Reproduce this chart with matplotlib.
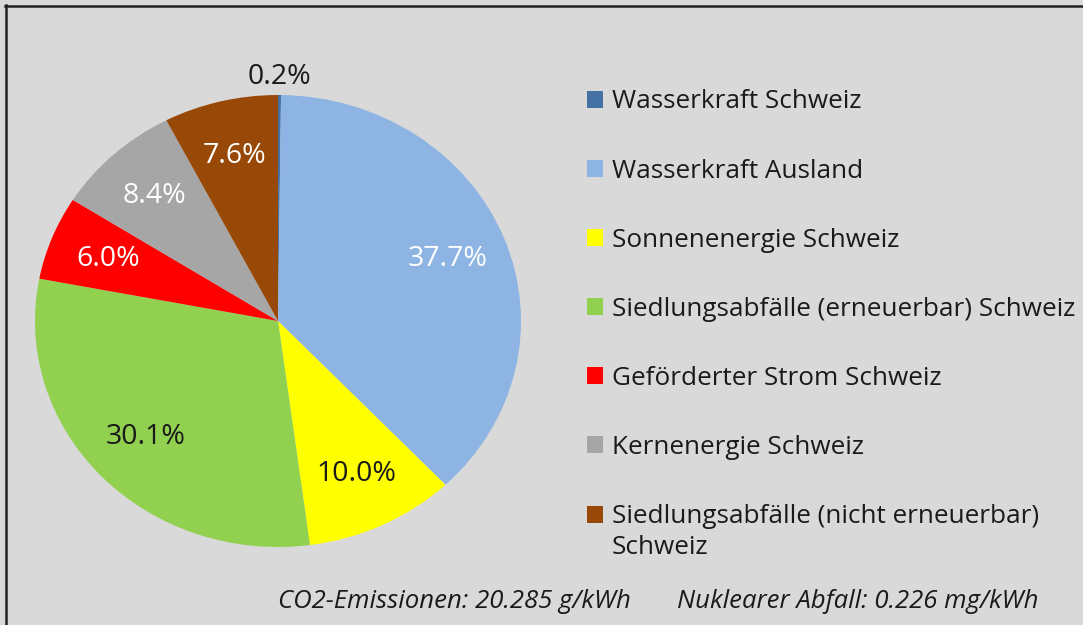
import matplotlib
matplotlib.use("Agg")
import matplotlib.pyplot as plt
from matplotlib.patches import Patch

plt.rcParams['font.family'] = ['Open Sans', 'DejaVu Sans']

# data
categories = [
    "Wasserkraft Schweiz",
    "Wasserkraft Ausland",
    "Sonnenenergie Schweiz",
    "Siedlungsabfälle (erneuerbar) Schweiz",
    "Geförderter Strom Schweiz",
    "Kernenergie Schweiz",
    "Siedlungsabfälle (nicht erneuerbar)",
]
last_label_wrap = "Schweiz"
shares = [0.2, 37.7, 10.0, 30.1, 6.0, 8.4, 7.6]
colors = ["#4472a4", "#8eb4e3", "#ffff00", "#92d050", "#ff0000", "#a6a6a6", "#984807"]
label_colors = ["#1a1a1a", "white", "#1a1a1a", "#1a1a1a", "white", "white", "white"]
footer_co2 = "CO2-Emissionen: 20.285 g/kWh"
footer_nuc = "Nuklearer Abfall: 0.226 mg/kWh"

W, H = 1083, 625
bg = "#d9d9d9"
fig = plt.figure(figsize=(W / 100, H / 100), dpi=100)
fig.patch.set_facecolor(bg)

# frame lines (top / left)
fig.add_artist(plt.Line2D([5 / W, 1], [1 - 6 / H, 1 - 6 / H], color="#222222", lw=1.8, transform=fig.transFigure))
fig.add_artist(plt.Line2D([6 / W, 6 / W], [0, 1 - 5 / H], color="#222222", lw=1.8, transform=fig.transFigure))

# pie (slightly wider than tall, like the original)
cx, cy, rx, ry = 278, 321, 243, 226
ax = fig.add_axes([(cx - rx) / W, 1 - (cy + ry) / H, 2 * rx / W, 2 * ry / H])
ax.set_facecolor(bg)
wedges, texts, autotexts = ax.pie(
    shares, colors=colors, startangle=90, counterclock=False,
    autopct="%.1f%%", pctdistance=0.75, radius=1,
    wedgeprops=dict(linewidth=0),
    textprops=dict(fontsize=20.5),
)
for t, c in zip(autotexts, label_colors):
    t.set_color(c)
# small slice label outside
x0, y0 = autotexts[0].get_position()
autotexts[0].set_position((x0 / 0.75 * 1.08, y0 / 0.75 * 1.08))
ax.set_aspect("auto")
ax.set_xlim(-1, 1)
ax.set_ylim(-1, 1)
ax.axis("off")

# legend
handles = [Patch(facecolor=c, edgecolor="none") for c in colors]
leg = fig.legend(
    handles, categories, loc="upper left",
    bbox_to_anchor=(563 / W, 1 - 66 / H),
    frameon=False, fontsize=18.8, handlelength=0.62, handleheight=0.62,
    handletextpad=0.35, labelspacing=1.69, labelcolor="#1a1a1a",
)

# second line of the last legend entry, under its first line
fig.canvas.draw()
bb = leg.get_texts()[-1].get_window_extent()
fig.text(bb.x0 / W, (bb.y0 - 6) / H, last_label_wrap, fontsize=18.8,
         color="#1a1a1a", va="top", ha="left")

# footer
fig.text(278 / W, 1 - 601 / H, footer_co2, fontsize=18.5, style="italic", color="#1a1a1a", va="center")
fig.text(677 / W, 1 - 601 / H, footer_nuc, fontsize=18.5, style="italic", color="#1a1a1a", va="center")

fig.savefig("out.png", dpi=100, facecolor=bg)
